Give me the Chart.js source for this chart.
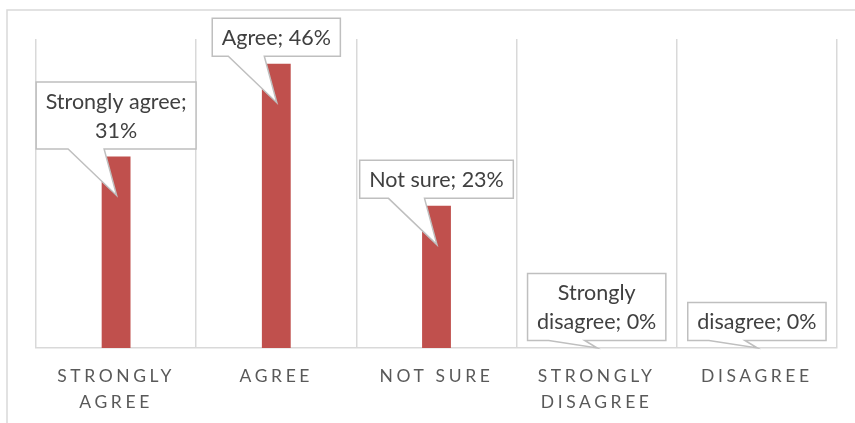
<!DOCTYPE html>
<html>
<head>
<meta charset="utf-8">
<script src="https://cdn.jsdelivr.net/npm/chart.js@4.4.1/dist/chart.umd.min.js"></script>
<style>
    html, body { margin: 0; padding: 0; background: #ffffff; }
    #wrap { width: 855px; height: 423px; position: relative; }
</style>
</head>
<body>
<div id="wrap"><canvas id="surveyChart" width="855" height="423"></canvas></div>
<script>
// survey answers
const categories = ['Strongly agree', 'Agree', 'Not sure', 'Strongly disagree', 'disagree'];
const values = [31, 46, 23, 0, 0];
const tickLabels = [['STRONGLY', 'AGREE'], 'AGREE', 'NOT SURE', ['STRONGLY', 'DISAGREE'], 'DISAGREE'];

const BAR_COLOR = '#C0504D';
const GRID_COLOR = '#d9d9d9';
const CALLOUT_FONT = '21.5px Lato';

function wrapText(ctx, text, maxWidth) {
    const words = text.split(' ');
    const lines = [];
    let current = '';
    words.forEach(word => {
        const test = current ? current + ' ' + word : word;
        if (current && ctx.measureText(test).width > maxWidth) {
            lines.push(current);
            current = word;
        } else {
            current = test;
        }
    });
    if (current) lines.push(current);
    return lines;
}

// frame + letter spacing for the axis labels
const framePlugin = {
    id: 'frame',
    beforeDraw(chart) {
        const ctx = chart.ctx;
        ctx.save();
        ctx.fillStyle = '#ffffff';
        ctx.fillRect(0, 0, chart.width, chart.height);
        ctx.strokeStyle = GRID_COLOR;
        ctx.lineWidth = 1.5;
        ctx.beginPath();
        ctx.moveTo(7, chart.height);
        ctx.lineTo(7, 10);
        ctx.lineTo(chart.width, 10);
        ctx.stroke();
        ctx.restore();
        ctx.letterSpacing = '3.6px';
    },
    beforeDatasetsDraw(chart) {
        chart.ctx.letterSpacing = '0px';
    }
};

// Excel style callout data labels
const calloutPlugin = {
    id: 'callouts',
    afterDatasetsDraw(chart) {
        const ctx = chart.ctx;
        const meta = chart.getDatasetMeta(0);
        const area = chart.chartArea;
        ctx.save();
        ctx.font = CALLOUT_FONT;
        meta.data.forEach((bar, i) => {
            const text = categories[i] + '; ' + values[i] + '%';
            const lines = wrapText(ctx, text, 158);
            const textW = Math.max(...lines.map(l => ctx.measureText(l).width));
            const lineH = 29;
            const boxW = textW + 19;
            const boxH = lines.length * lineH + 9;
            const cx = bar.x;
            const bottom = bar.y - 7.5;
            const top = bottom - boxH;
            const left = cx - boxW / 2;
            const right = cx + boxW / 2;
            const tipY = Math.min(bar.y + 39, area.bottom);

            ctx.beginPath();
            ctx.moveTo(left, top);
            ctx.lineTo(right, top);
            ctx.lineTo(right, bottom);
            ctx.lineTo(cx - 12, bottom);
            ctx.lineTo(cx + 0.5, tipY);
            ctx.lineTo(cx - 48, bottom);
            ctx.lineTo(left, bottom);
            ctx.closePath();
            ctx.fillStyle = '#ffffff';
            ctx.fill();
            ctx.strokeStyle = '#bfbfbf';
            ctx.lineWidth = 1.5;
            ctx.stroke();

            ctx.fillStyle = '#404040';
            ctx.textAlign = 'center';
            ctx.textBaseline = 'middle';
            lines.forEach((line, j) => {
                ctx.fillText(line, cx, top + 4.5 + lineH / 2 + j * lineH + 1);
            });
        });
        ctx.restore();
    }
};

new Chart(document.getElementById('surveyChart').getContext('2d'), {
    type: 'bar',
    data: {
        labels: tickLabels,
        datasets: [{
            data: values,
            backgroundColor: BAR_COLOR,
            categoryPercentage: 1,
            barPercentage: 0.18
        }]
    },
    options: {
        responsive: false,
        animation: false,
        devicePixelRatio: 1,
        layout: {
            padding: { left: 36, right: 18, top: 39, bottom: 0 }
        },
        plugins: {
            legend: { display: false },
            tooltip: { enabled: false }
        },
        scales: {
            x: {
                grid: {
                    color: GRID_COLOR,
                    lineWidth: 1.5,
                    drawTicks: false,
                    offset: true
                },
                border: { color: GRID_COLOR, width: 1.5 },
                ticks: {
                    color: '#595959',
                    font: { family: 'Lato', size: 17.5, lineHeight: '26px' },
                    padding: 15,
                    autoSkip: false,
                    maxRotation: 0
                },
                afterFit(scale) {
                    scale.height = 75;
                }
            },
            y: {
                display: false,
                min: 0,
                max: 50
            }
        }
    },
    plugins: [framePlugin, calloutPlugin]
});
</script>
</body>
</html>
